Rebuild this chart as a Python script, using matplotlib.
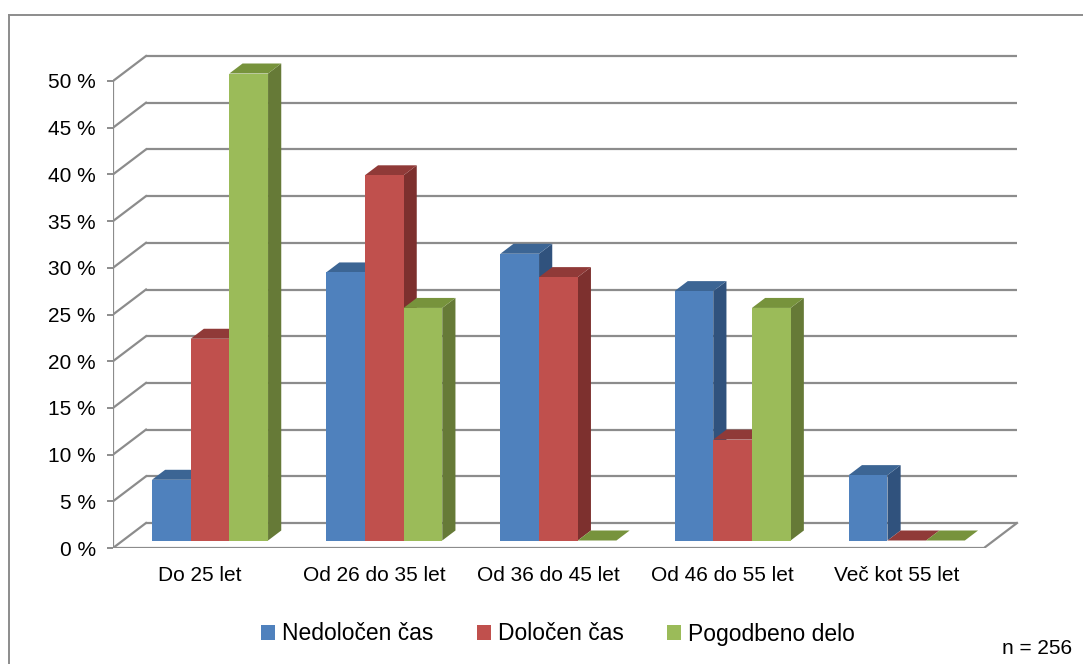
import numpy as np
import matplotlib
matplotlib.use("Agg")
import matplotlib.pyplot as plt
from matplotlib.patches import Polygon, Patch

plt.rcParams['font.family'] = ['Liberation Sans', 'DejaVu Sans']

categories = ["Do 25 let", "Od 26 do 35 let", "Od 36 do 45 let", "Od 46 do 55 let", "Več kot 55 let"]
series_names = ["Nedoločen čas", "Določen čas", "Pogodbeno delo"]
nedolocen = [6.5, 28.7, 30.7, 26.7, 7.0]
dolocen = [21.6, 39.1, 28.2, 10.8, 0.0]
pogodbeno = [50.0, 24.9, 0.0, 24.9, 0.0]
yticks = list(range(0, 55, 5))
sample_note = "n = 256"

# front / top / side shades per series
faces = [
    ("#4f81bd", "#3c6594", "#30527d"),
    ("#c0504d", "#903a38", "#7d302e"),
    ("#9bbb59", "#77933c", "#667a37"),
]

W, H = 1083, 664
fig = plt.figure(figsize=(W / 100, H / 100), dpi=100)

# front plane of the floor: x 0..5 -> px 113..984, y 0..50 -> px 548..81
px_x = 871 / 5
px_y = 467 / 50
ax = fig.add_axes([113 / W, (H - 548) / H, (1020 - 113) / W, (548 - 50) / H])
ax.set_xlim(0, (1020 - 113) / px_x)
ax.set_ylim(0, (548 - 50) / px_y)
for s in ax.spines.values():
    s.set_visible(False)

# depth of the floor in data units
DX = 33 / px_x
DY = 25 / px_y
grid_c = "#8c8c8c"
n_cat = len(categories)

# back wall gridlines and left wall diagonals
for t in yticks:
    ax.plot([DX, n_cat + DX], [t + DY, t + DY], color=grid_c, lw=1.6, zorder=1, solid_capstyle="butt")
    ax.plot([0, DX], [t, t + DY], color=grid_c, lw=1.6, zorder=1)
ax.plot([0, 0], [0, yticks[-1]], color=grid_c, lw=1.6, zorder=1)
ax.plot([0, n_cat, n_cat + DX], [0, 0, DY], color=grid_c, lw=1.6, zorder=1)

ax.set_yticks(yticks)
ax.set_yticklabels([f"{t} %" for t in yticks])
ax.tick_params(axis="y", length=4.3, width=1.4, color=grid_c, pad=8, labelsize=15)
ax.set_xticks(np.arange(n_cat) + 0.5)
ax.set_xticklabels(categories)
ax.tick_params(axis="x", length=0, pad=13, labelsize=15)

# bars sit between 30% and 70% of the floor depth
bw = 38.7 / px_x
z0x, z0y = 0.3 * DX, 0.3 * DY
dx, dy = 0.4 * DX, 0.4 * DY
data = [nedolocen, dolocen, pogodbeno]
z = 2
for i in range(n_cat):
    left0 = i + 0.5 + z0x - 1.5 * bw
    for k, vals in enumerate(data):
        v = vals[i]
        x0 = left0 + k * bw
        x1 = x0 + bw
        top = z0y + v
        front, topc, side = faces[k]
        if v > 0:
            ax.add_patch(Polygon([(x1, z0y), (x1 + dx, z0y + dy), (x1 + dx, top + dy), (x1, top)],
                                 closed=True, facecolor=side, edgecolor="none", zorder=z))
        ax.add_patch(Polygon([(x0, top), (x1, top), (x1 + dx, top + dy), (x0 + dx, top + dy)],
                             closed=True, facecolor=topc, edgecolor="none", zorder=z))
        if v > 0:
            ax.bar(x0, v, width=bw, bottom=z0y, align="edge", color=front, edgecolor="none", zorder=z + 0.5)
        z += 1

# outer frame (only top and left edges fall inside the image)
fig.add_artist(plt.Line2D([9 / W, 9 / W], [0, 1 - 15 / H], color=grid_c, lw=1.4))
fig.add_artist(plt.Line2D([9 / W, 1], [1 - 15 / H, 1 - 15 / H], color=grid_c, lw=1.4))

handles = [Patch(facecolor=f[0], edgecolor="none") for f in faces]
fig.legend(handles, series_names, loc="center", bbox_to_anchor=(558 / W, 1 - 634 / H), ncol=3,
           frameon=False, fontsize=16.5, handlelength=0.6, handleheight=0.6, handletextpad=0.3,
           columnspacing=1.9)

fig.text(1072 / W, 1 - 648 / H, sample_note, ha="right", va="center", fontsize=15)

fig.savefig("out.png", dpi=100)
